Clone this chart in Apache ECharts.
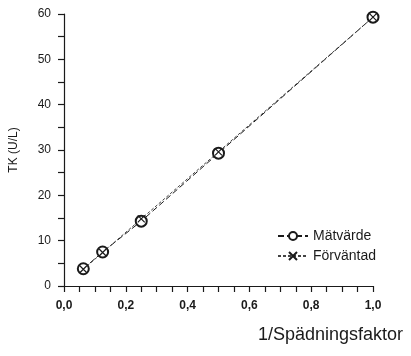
<!DOCTYPE html>
<html><head><meta charset="utf-8">
<script src="https://cdn.jsdelivr.net/npm/echarts@6/dist/echarts.min.js"></script>
<style>html,body{margin:0;padding:0;background:#fff}#c{width:411px;height:356px}</style>
</head><body><div id="c"></div>
<script>
var xValues = [0.0625, 0.125, 0.25, 0.5, 1.0];
var measured = [3.8, 7.5, 14.3, 29.3, 59.3];
var expected = [3.7, 7.4, 14.8, 29.6, 59.3];
var seriesNames = ['Mätvärde', 'Förväntad'];
var yName = 'TK (U/L)';
var xName = '1/Spädningsfaktor';

var chart = echarts.init(document.getElementById('c'));
var ink = '#1a1a1a';
var crossPath = 'path://M0,0L10,10M10,0L0,10';
chart.setOption({
  animation: false,
  backgroundColor: '#fff',
  textStyle: {fontFamily: 'Liberation Sans, Arial, sans-serif'},
  grid: {left: 64, right: 38, top: 14, bottom: 70},
  xAxis: {
    type: 'value', min: 0, max: 1, interval: 0.2,
    axisLine: {lineStyle: {color: ink, width: 1.2}},
    axisTick: {show: true, length: 6, lineStyle: {color: ink, width: 1.2}},
    minorTick: {show: true, splitNumber: 4, length: 6, lineStyle: {color: ink, width: 1.2}},
    splitLine: {show: false},
    axisLabel: {color: ink, fontSize: 12, fontWeight: 'bold', margin: 14,
      formatter: function (v) { return v.toFixed(1).replace('.', ','); }}
  },
  yAxis: {
    type: 'value', min: 0, max: 60, interval: 10,
    name: yName, nameLocation: 'middle', nameGap: 44,
    nameTextStyle: {color: ink, fontSize: 12},
    axisLine: {show: true, lineStyle: {color: ink, width: 1.2}},
    axisTick: {show: true, length: 6, lineStyle: {color: ink, width: 1.2}},
    minorTick: {show: true, splitNumber: 2, length: 6, lineStyle: {color: ink, width: 1.2}},
    splitLine: {show: false},
    axisLabel: {color: ink, fontSize: 12, margin: 13}
  },
  legend: {
    orient: 'vertical', left: 272, top: 224, itemGap: 6,
    itemWidth: 30, itemHeight: 10,
    textStyle: {color: ink, fontSize: 14, fontFamily: 'Liberation Sans, Arial, sans-serif'},
    data: seriesNames
  },
  graphic: [{
    type: 'text', right: 8, top: 326,
    style: {text: xName, font: '18px "Liberation Sans", Arial, sans-serif', fill: ink}
  }],
  series: [
    {
      name: seriesNames[0], type: 'line',
      data: xValues.map(function (x, i) { return [x, measured[i]]; }),
      symbol: 'emptyCircle', symbolSize: 11,
      lineStyle: {color: ink, width: 1, type: [6, 3]},
      itemStyle: {color: ink, borderColor: ink, borderWidth: 1.2}
    },
    {
      name: seriesNames[1], type: 'line',
      data: xValues.map(function (x, i) { return [x, expected[i]]; }),
      symbol: crossPath, symbolSize: 7,
      lineStyle: {color: '#444', width: 1, type: [3, 2]},
      itemStyle: {color: 'none', borderColor: ink, borderWidth: 1.2}
    }
  ]
});
</script></body></html>
